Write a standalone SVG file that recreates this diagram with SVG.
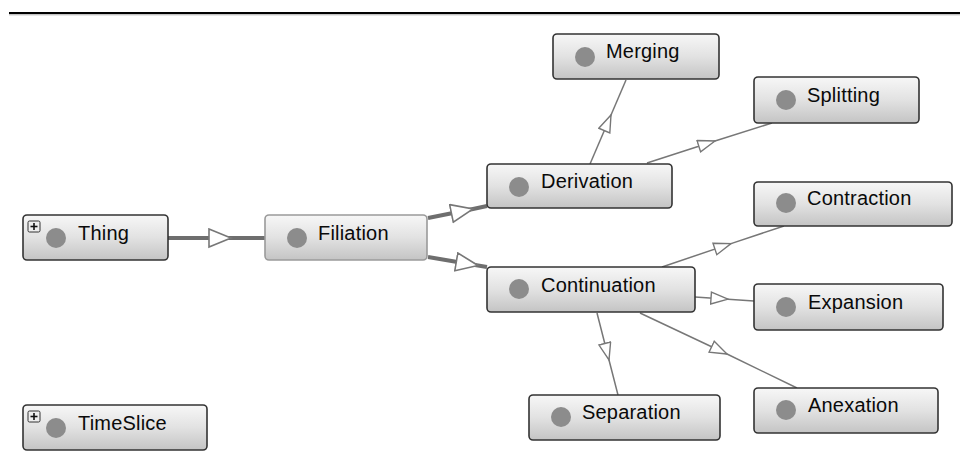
<svg xmlns="http://www.w3.org/2000/svg" width="960" height="466" viewBox="0 0 960 466">
<defs>
<linearGradient id="g" x1="0" y1="0" x2="0" y2="1">
<stop offset="0" stop-color="#f7f7f7"/>
<stop offset="0.5" stop-color="#e2e2e2"/>
<stop offset="1" stop-color="#c4c4c4"/>
</linearGradient>
<marker id="tk" markerUnits="userSpaceOnUse" markerWidth="26" markerHeight="22" refX="23" refY="10" orient="auto" viewBox="0 0 26 22">
<path d="M1,1 L23,10 L1,19 Z" fill="#fff" stroke="#777" stroke-width="1.6"/>
</marker>
<marker id="tn" markerUnits="userSpaceOnUse" markerWidth="20" markerHeight="16" refX="18" refY="7" orient="auto" viewBox="0 0 20 16">
<path d="M1,1 L18,7 L1,13 Z" fill="#fff" stroke="#777" stroke-width="1.4"/>
</marker>
</defs>
<style>
.box{fill:url(#g);stroke:#333;stroke-width:1.6}
.sel{fill:url(#g);stroke:#9a9a9a;stroke-width:1.6}
.dot{fill:#8c8c8c}
.lbl{font-family:"Liberation Sans",Arial,sans-serif;font-size:20px;fill:#0a0a0a;letter-spacing:0.2px}
.thick{fill:none;stroke:#6e6e6e;stroke-width:4;marker-mid:url(#tk)}
.thin{fill:none;stroke:#777;stroke-width:1.5;marker-mid:url(#tn)}
.pb{fill:#eee;stroke:#333;stroke-width:1}
.pl{stroke:#111;stroke-width:1.6}
</style>
<rect width="960" height="466" fill="#fff"/>
<line x1="9" y1="13" x2="960" y2="13" stroke="#000" stroke-width="2"/>
<line x1="9" y1="14.8" x2="960" y2="14.8" stroke="#aaa" stroke-width="1"/>
<g id="connectors">
<path class="thick" d="M168,238 L231,238 L265,238"/>
<path class="thick" d="M428,218 L473,209 L487,206"/>
<path class="thick" d="M428,257 L478,265.5 L487,267"/>
<path class="thin" d="M590,164 L611,115 L626,80"/>
<path class="thin" d="M647,163 L715,141 L772,123"/>
<path class="thin" d="M662,267 L731,243.6 L784,226"/>
<path class="thin" d="M695,297 L728,299.2 L754,301"/>
<path class="thin" d="M597,313 L609,360 L618,395"/>
<path class="thin" d="M640,313 L727,354 L797,388"/>
</g>
<g id="Thing">
<rect class="box" x="23" y="215" width="145" height="45" rx="4"/>
<rect class="pb" x="28" y="221" width="12" height="11" rx="1.5"/>
<line class="pl" x1="30.5" y1="226.5" x2="37.5" y2="226.5"/><line class="pl" x1="34" y1="223" x2="34" y2="230"/>
<circle class="dot" cx="56" cy="238" r="10"/>
<text class="lbl" x="78" y="240">Thing</text>
</g>
<g id="Filiation">
<rect class="sel" x="265" y="215" width="162" height="45" rx="4"/>
<circle class="dot" cx="297" cy="238" r="10"/>
<text class="lbl" x="318" y="240">Filiation</text>
</g>
<g id="Derivation">
<rect class="box" x="487" y="164" width="185" height="44" rx="4"/>
<circle class="dot" cx="519" cy="187" r="10"/>
<text class="lbl" x="541" y="188">Derivation</text>
</g>
<g id="Merging">
<rect class="box" x="553" y="34" width="166" height="45" rx="4"/>
<circle class="dot" cx="585" cy="57" r="10"/>
<text class="lbl" x="606" y="58">Merging</text>
</g>
<g id="Splitting">
<rect class="box" x="754" y="77" width="165" height="46" rx="4"/>
<circle class="dot" cx="786" cy="100" r="10"/>
<text class="lbl" x="807" y="102">Splitting</text>
</g>
<g id="Contraction">
<rect class="box" x="754" y="182" width="198" height="44" rx="4"/>
<circle class="dot" cx="786" cy="203" r="10"/>
<text class="lbl" x="807" y="205">Contraction</text>
</g>
<g id="Continuation">
<rect class="box" x="487" y="267" width="208" height="45" rx="4"/>
<circle class="dot" cx="519" cy="289" r="10"/>
<text class="lbl" x="541" y="292">Continuation</text>
</g>
<g id="Expansion">
<rect class="box" x="754" y="284" width="189" height="46" rx="4"/>
<circle class="dot" cx="786" cy="307" r="10"/>
<text class="lbl" x="808" y="309">Expansion</text>
</g>
<g id="Separation">
<rect class="box" x="529" y="395" width="191" height="45" rx="4"/>
<circle class="dot" cx="561" cy="417" r="10"/>
<text class="lbl" x="582" y="419">Separation</text>
</g>
<g id="Anexation">
<rect class="box" x="754" y="388" width="184" height="45" rx="4"/>
<circle class="dot" cx="786" cy="410" r="10"/>
<text class="lbl" x="808" y="412">Anexation</text>
</g>
<g id="TimeSlice">
<rect class="box" x="23" y="405" width="184" height="45" rx="4"/>
<rect class="pb" x="28" y="411" width="12" height="11" rx="1.5"/>
<line class="pl" x1="30.5" y1="416.5" x2="37.5" y2="416.5"/><line class="pl" x1="34" y1="413" x2="34" y2="420"/>
<circle class="dot" cx="56" cy="428" r="10"/>
<text class="lbl" x="78" y="430">TimeSlice</text>
</g>
</svg>
